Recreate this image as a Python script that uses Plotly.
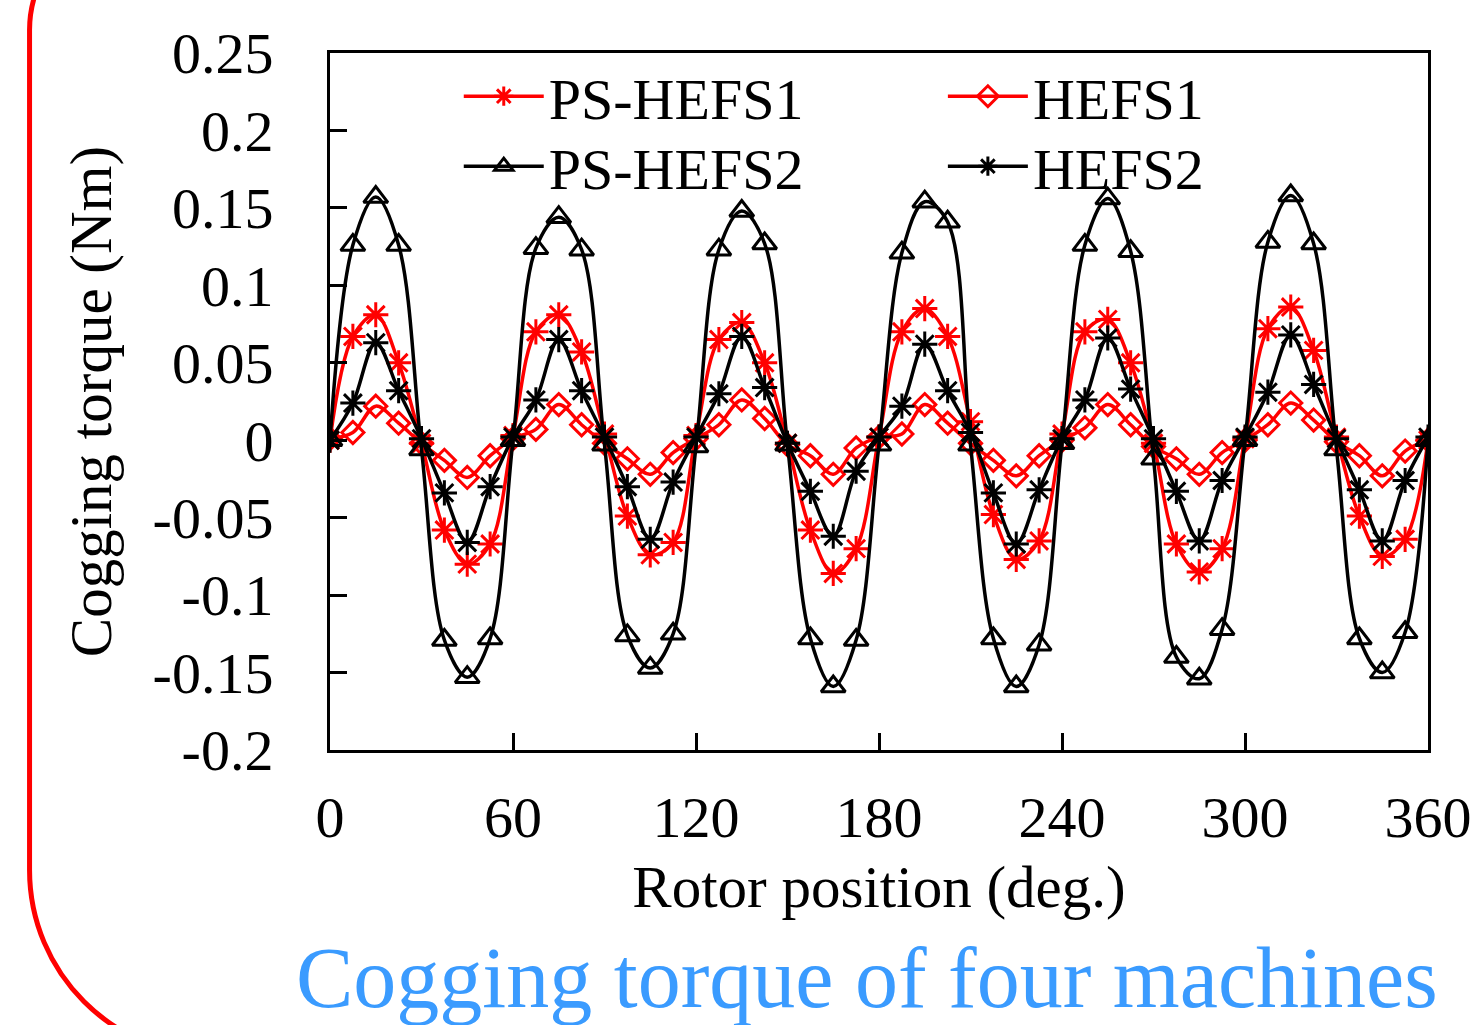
import plotly.graph_objects as go

# ---------------- data ----------------
angle = [i * 7.5 for i in range(49)]

ps_hefs1 = [0, 0.067, 0.081, 0.050, -0.002, -0.058, -0.080, -0.067,
            0.003, 0.070, 0.081, 0.057, 0.004, -0.049, -0.074, -0.066,
            0.003, 0.065, 0.076, 0.050, -0.002, -0.058, -0.086, -0.070,
            0.002, 0.070, 0.085, 0.067, 0.012, -0.048, -0.077, -0.065,
            0.004, 0.070, 0.078, 0.050, -0.002, -0.067, -0.085, -0.070,
            0.001, 0.072, 0.086, 0.058, 0.002, -0.049, -0.075, -0.064,
            0.000]

hefs1 = [0.001, 0.005, 0.022, 0.011, -0.002, -0.013, -0.024, -0.010,
         0.001, 0.007, 0.023, 0.010, -0.002, -0.012, -0.022, -0.008,
         0.001, 0.010, 0.026, 0.014, -0.003, -0.010, -0.022, -0.005,
         0.002, 0.004, 0.023, 0.011, -0.002, -0.013, -0.023, -0.010,
         0.000, 0.008, 0.023, 0.010, -0.004, -0.012, -0.022, -0.008,
         0.000, 0.010, 0.024, 0.013, -0.001, -0.010, -0.023, -0.007,
         0.000]

ps_hefs2 = [0, 0.126, 0.157, 0.126, -0.006, -0.129, -0.153, -0.128,
            0.000, 0.124, 0.144, 0.123, -0.003, -0.126, -0.147, -0.125,
            -0.004, 0.123, 0.148, 0.127, -0.003, -0.128, -0.159, -0.129,
            -0.003, 0.121, 0.154, 0.141, -0.003, -0.128, -0.159, -0.132,
            -0.002, 0.126, 0.156, 0.122, -0.012, -0.140, -0.154, -0.122,
            0.000, 0.128, 0.158, 0.127, -0.006, -0.128, -0.150, -0.124,
            0.000]

hefs2 = [0, 0.024, 0.063, 0.032, 0.001, -0.034, -0.066, -0.030,
         0.002, 0.026, 0.065, 0.032, 0.002, -0.030, -0.064, -0.027,
         0.002, 0.030, 0.067, 0.034, -0.002, -0.033, -0.062, -0.020,
         0.002, 0.022, 0.062, 0.032, 0.005, -0.034, -0.067, -0.032,
         0.001, 0.026, 0.066, 0.033, 0.001, -0.033, -0.065, -0.026,
         0.002, 0.031, 0.068, 0.036, 0.001, -0.032, -0.065, -0.026,
         0.002]

x_ticks = [0, 60, 120, 180, 240, 300, 360]
x_ticktext = ["0", "60", "120", "180", "240", "300", "360"]
y_ticks = [0.25, 0.2, 0.15, 0.1, 0.05, 0, -0.05, -0.1, -0.15, -0.2]
y_ticktext = ["0.25", "0.2", "0.15", "0.1", "0.05", "0", "-0.05", "-0.1", "-0.15", "-0.2"]

# ---------------- layout geometry ----------------
SX = 1484 / 1477                    # horizontal compensation for capture
SL, SR, ST, SB = 328, 1428, 53, 750  # wanted plot area on the picture
W, H = round(1477 * SX), 1025
L, R, T, B = SL * SX, SR * SX, ST, SB
PW, PH = R - L, B - T


def px(sx):
    return (sx * SX - L) / PW


def py(sy):
    return (B - sy) / PH


FONT = "Liberation Serif, Times New Roman, serif"
RED = "#FF0000"
BLK = "#000000"

fig = go.Figure()

fig.add_trace(go.Scatter(
    x=angle, y=ps_hefs1, name="PS-HEFS1", mode="lines+markers",
    line=dict(color=RED, width=3.5, shape="spline"),
    marker=dict(symbol="asterisk-open", size=21, color=RED, line=dict(color=RED, width=3)),
    legend="legend"))
fig.add_trace(go.Scatter(
    x=angle, y=hefs1, name="HEFS1", mode="lines+markers",
    line=dict(color=RED, width=3.5, shape="spline"),
    marker=dict(symbol="diamond-open", size=17, color=RED, line=dict(color=RED, width=3)),
    legend="legend2"))
fig.add_trace(go.Scatter(
    x=angle, y=ps_hefs2, name="PS-HEFS2", mode="lines+markers",
    line=dict(color=BLK, width=3.5, shape="spline"),
    marker=dict(symbol="triangle-up-open", size=21, color=BLK, line=dict(color=BLK, width=3)),
    legend="legend3"))
fig.add_trace(go.Scatter(
    x=angle, y=hefs2, name="HEFS2", mode="lines+markers",
    line=dict(color=BLK, width=3.5, shape="spline"),
    marker=dict(symbol="asterisk-open", size=21, color=BLK, line=dict(color=BLK, width=3)),
    legend="legend4"))

leg_common = dict(
    bgcolor="rgba(0,0,0,0)", borderwidth=0,
    font=dict(family=FONT, size=58, color=BLK),
    itemwidth=80, orientation="v",
    xanchor="left", yanchor="top",
)

fig.update_layout(
    width=W, height=H,
    margin=dict(l=L, r=W - R, t=T, b=H - B, pad=0),
    paper_bgcolor="white", plot_bgcolor="white",
    font=dict(family=FONT, size=58, color=BLK),
    showlegend=True,
    legend=dict(x=px(457), y=py(52), **leg_common),
    legend2=dict(x=px(942), y=py(52), **leg_common),
    legend3=dict(x=px(457), y=py(122), **leg_common),
    legend4=dict(x=px(942), y=py(122), **leg_common),
    xaxis=dict(
        range=[0, 360], tickvals=x_ticks, ticktext=x_ticktext,
        ticks="inside", ticklen=17, tickwidth=3, tickcolor=BLK,
        showline=True, linewidth=3, linecolor=BLK, mirror=True,
        showgrid=False, zeroline=False,
        tickfont=dict(family=FONT, size=58, color=BLK),
        ticklabelstandoff=14,
        title=dict(text="Rotor position (deg.)", font=dict(family=FONT, size=59, color=BLK), standoff=18),
    ),
    yaxis=dict(
        range=[-0.2, 0.25], tickvals=y_ticks, ticktext=y_ticktext,
        ticks="inside", ticklen=17, tickwidth=3, tickcolor=BLK,
        showline=True, linewidth=3, linecolor=BLK, mirror=True,
        showgrid=False, zeroline=False,
        tickfont=dict(family=FONT, size=58, color=BLK),
        ticklabelstandoff=42,
        title=dict(text="Cogging torque (Nm)", font=dict(family=FONT, size=59, color=BLK), standoff=22),
    ),
)

# bottom caption
fig.add_annotation(
    text="Cogging torque of four machines", xref="paper", yref="paper",
    x=px(866), y=py(978), xanchor="center", yanchor="middle", showarrow=False,
    font=dict(family=FONT, size=86, color="#3A9BFF"))

# red rounded border on the left
pts = [(141.5, -84.5), (78.4, -84.5), (27, -33), (27, 30), (27, 870),
       (27, 972.7), (110.3, 1056), (213, 1056)]
p = [(px(a), py(b)) for a, b in pts]
path = (f"M {p[0][0]},{p[0][1]} C {p[1][0]},{p[1][1]} {p[2][0]},{p[2][1]} {p[3][0]},{p[3][1]} "
        f"L {p[4][0]},{p[4][1]} C {p[5][0]},{p[5][1]} {p[6][0]},{p[6][1]} {p[7][0]},{p[7][1]}")
fig.add_shape(type="path", path=path, xref="paper", yref="paper",
              line=dict(color=RED, width=5), fillcolor="rgba(0,0,0,0)")

fig.write_html("out.html", config={"displayModeBar": False},
               post_script="document.body.style.margin='0';document.body.style.overflow='hidden';")
